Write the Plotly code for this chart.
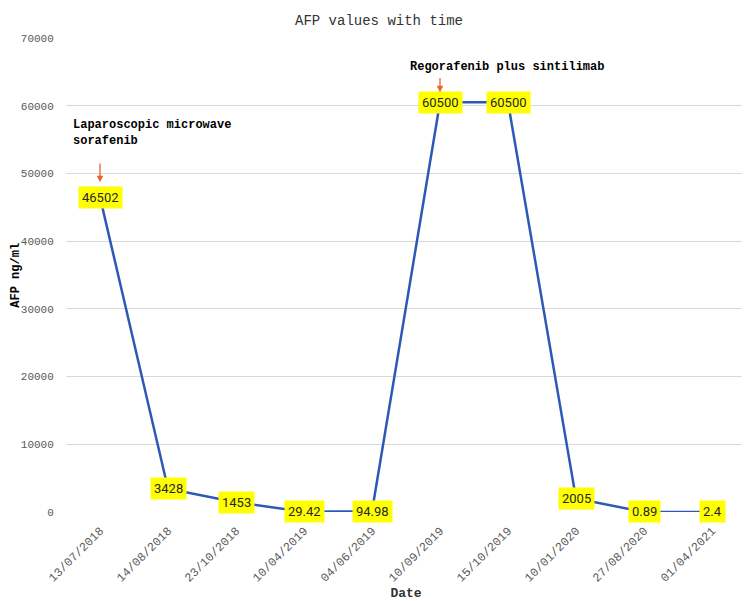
import plotly.graph_objects as go

dates = ["13/07/2018", "14/08/2018", "23/10/2018", "10/04/2019", "04/06/2019",
         "10/09/2019", "15/10/2019", "10/01/2020", "27/08/2020", "01/04/2021"]
afp = [46502, 3428, 1453, 29.42, 94.98, 60500, 60500, 2005, 0.89, 2.4]
labels = ["46502", "3428", "1453", "29.42", "94.98", "60500", "60500", "2005", "0.89", "2.4"]
y_ticks = [0, 10000, 20000, 30000, 40000, 50000, 60000, 70000]

narrow = "Liberation Sans Narrow, Roboto, Arial, sans-serif"
serif_mono = "Liberation Mono, Courier New, monospace"

fig = go.Figure()
fig.add_trace(go.Scatter(
    x=dates, y=afp, mode="lines",
    line=dict(color="#2E58B8", width=2.5),
    hoverinfo="x+y", showlegend=False,
))

annotations = []
for i, (d, v, t) in enumerate(zip(dates, afp, labels)):
    annotations.append(dict(
        x=i, y=v, xref="x", yref="y", text=t, showarrow=False,
        bgcolor="#FFFF00", borderpad=3,
        font=dict(family=narrow, size=13, color="#262626"),
    ))

# treatment annotations
annotations.append(dict(
    x=-0.43, y=55900, xref="x", yref="y",
    text="<b>Laparoscopic microwave<br>sorafenib</b>", showarrow=False,
    xanchor="left", yanchor="middle", align="left",
    font=dict(family=serif_mono, size=12, color="#000000"),
))
annotations.append(dict(
    x=0, y=48700, xref="x", yref="y", ax=0, ay=51700, axref="x", ayref="y",
    text="", showarrow=True, arrowhead=2, arrowsize=1, arrowwidth=1.3,
    arrowcolor="#E8642A",
))
annotations.append(dict(
    x=5, y=65700, xref="x", yref="y",
    text="<b>Regorafenib plus sintilimab</b>", showarrow=False,
    xanchor="left", yanchor="middle", xshift=-32,
    font=dict(family=serif_mono, size=12, color="#000000"),
))
annotations.append(dict(
    x=5, y=62000, xref="x", yref="y", ax=5, ay=64300, axref="x", ayref="y",
    text="", showarrow=True, arrowhead=2, arrowsize=1, arrowwidth=1.3,
    arrowcolor="#E8642A",
))
# y-axis title
annotations.append(dict(
    x=-0.074, y=0.5, xref="paper", yref="paper", text="<b>AFP ng/ml</b>",
    textangle=-90, showarrow=False, xanchor="center", yanchor="middle",
    font=dict(family=serif_mono, size=12, color="#000000"),
))

fig.update_layout(
    width=742, height=593,
    paper_bgcolor="white", plot_bgcolor="white",
    margin=dict(l=58, r=4, t=30, b=89, autoexpand=False),
    title=dict(text="AFP values with time", x=0.5, xanchor="center",
               y=0.98, yanchor="middle",
               font=dict(family=serif_mono, size=14, color="#333333")),
    xaxis=dict(
        type="category", range=[-0.5, 9.5], automargin=False,
        tickangle=-45, showgrid=False, showline=False, zeroline=False,
        ticks="outside", ticklen=6, tickcolor="rgba(0,0,0,0)",
        tickfont=dict(family=serif_mono, size=12, color="#595959"),
        title=dict(text="<b>Date</b>",
                   font=dict(family=serif_mono, size=13, color="#333333")),
    ),
    yaxis=dict(
        range=[0, 70000], tickvals=y_ticks, ticktext=[str(v) for v in y_ticks],
        automargin=False,
        showgrid=True, gridcolor="#D9D9D9", gridwidth=1, zeroline=False,
        ticks="outside", ticklen=9, tickcolor="rgba(0,0,0,0)",
        tickfont=dict(family=serif_mono, size=11, color="#595959"),
    ),
    annotations=annotations,
)

fig.write_html("out.html")
